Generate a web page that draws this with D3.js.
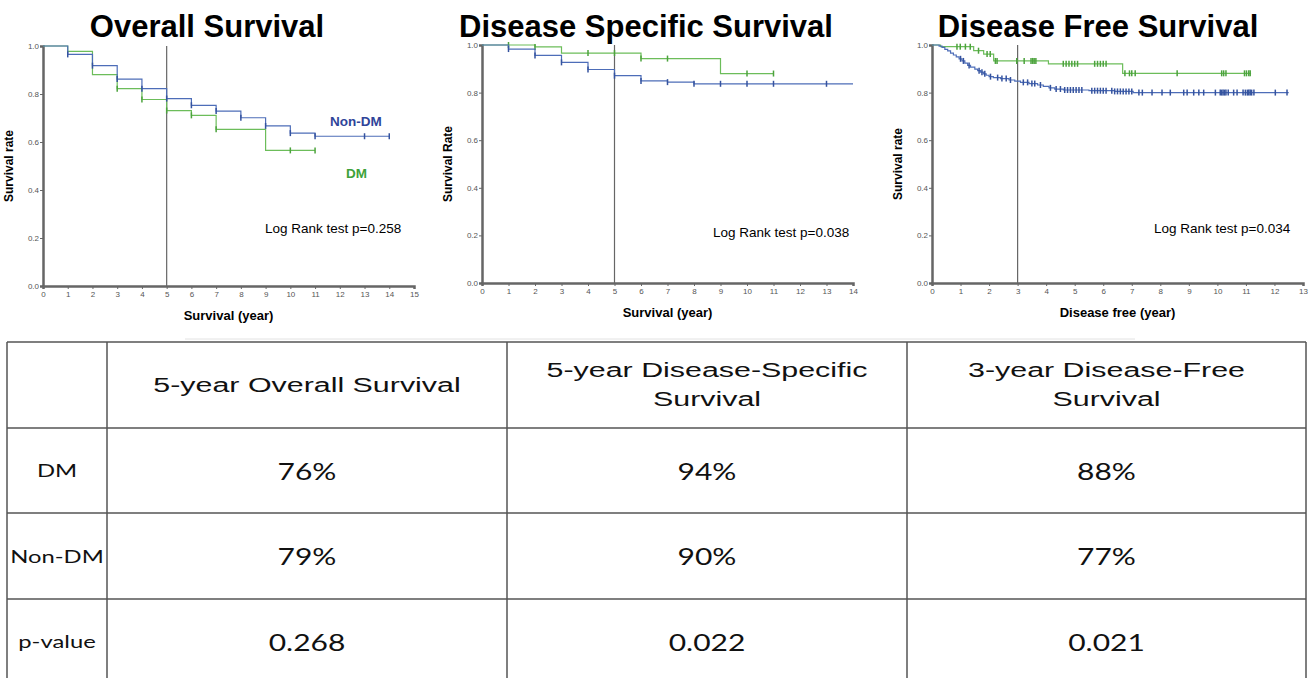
<!DOCTYPE html>
<html>
<head>
<meta charset="utf-8">
<script src="https://cdn.jsdelivr.net/npm/d3@7"></script>
<style>
  body { margin: 0; background: #fff; }
  svg { display: block; font-family: "Liberation Sans", Arial, sans-serif; }
  .tick text { fill: #555; font-size: 8px; }
</style>
</head>
<body>
<div id="chart"></div>
<script>
// ---- Kaplan-Meier data: [year, survival] steps ----
const osNonDmSteps = [[0, 1], [1, 0.965], [2, 0.918], [3, 0.862], [4, 0.822], [5, 0.781], [6, 0.753], [7, 0.729], [8, 0.701], [9, 0.667], [10, 0.637], [11, 0.624]];
const osNonDmEnd = 14;
const osNonDmCensor = [1, 2, 3, 4, 5, 6, 7, 8, 9, 10, 11, 13, 14];
const osDmSteps = [[0, 1], [1, 0.978], [2, 0.881], [3, 0.822], [4, 0.777], [5, 0.731], [6, 0.711], [7, 0.653], [9, 0.565]];
const osDmEnd = 11;
const osDmCensor = [3, 4, 5, 6, 7, 10, 11];

const dssNonDmSteps = [[0, 1], [1, 0.983], [2, 0.956], [3, 0.927], [4, 0.897], [5, 0.871], [6, 0.849], [7, 0.844], [8, 0.837]];
const dssNonDmEnd = 14;
const dssNonDmCensor = [1, 2, 3, 4, 5, 6, 7, 8, 9, 10, 11, 13];
const dssDmSteps = [[0, 1], [2, 0.992], [3, 0.966], [6, 0.943], [9, 0.880]];
const dssDmEnd = 11;
const dssDmCensor = [1, 2, 4, 5, 6, 7, 10, 11];

const dfsNonDmSteps = [[0, 1], [0.25, 0.995], [0.35, 0.99], [0.45, 0.982], [0.55, 0.975], [0.65, 0.966], [0.75, 0.958], [0.85, 0.95], [0.95, 0.942],
  [1.05, 0.933], [1.15, 0.924], [1.25, 0.914], [1.35, 0.907], [1.5, 0.899], [1.6, 0.892], [1.7, 0.886], [1.8, 0.879], [1.9, 0.873], [2.0, 0.867],
  [2.15, 0.863], [2.4, 0.859], [2.7, 0.853], [2.9, 0.848], [3.1, 0.843], [3.4, 0.838], [3.7, 0.832], [3.9, 0.826], [4.1, 0.82], [4.3, 0.815],
  [4.6, 0.811], [5.5, 0.808], [6.4, 0.805], [7.05, 0.8]];
const dfsNonDmEnd = 12.5;
const dfsNonDmCensor = [1.0, 1.1, 1.3, 1.65, 1.75, 1.85, 2.05, 2.3, 2.45, 2.6, 2.75, 3.2, 3.35, 3.5, 3.6, 3.8, 4.15, 4.35, 4.5, 4.65, 4.75, 4.85,
  4.95, 5.05, 5.15, 5.25, 5.6, 5.7, 5.8, 5.9, 6.0, 6.1, 6.3, 6.4, 6.5, 6.6, 6.7, 6.8, 6.9, 7.0, 7.25, 7.37, 7.71, 8.06, 8.35, 8.82, 8.94, 9.17,
  9.35, 9.52, 9.93, 10.1, 10.15, 10.2, 10.25, 10.3, 10.38, 10.57, 10.69, 10.9, 10.98, 11.05, 11.1, 11.15, 11.2, 11.28, 12.03, 12.44];
const dfsDmSteps = [[0, 1], [0.3, 0.993], [1.46, 0.976], [1.81, 0.962], [2.16, 0.933], [4.08, 0.921], [6.68, 0.881]];
const dfsDmEnd = 11.18;
const dfsDmCensor = [0.875, 0.99, 1.17, 1.34, 1.63, 1.93, 2.04, 2.22, 2.28, 2.97, 3.23, 3.47, 3.53, 3.58, 3.64, 4.6, 4.7, 4.8, 4.9, 5.0, 5.1,
  5.7, 5.8, 5.9, 6.0, 6.1, 6.76, 6.92, 7.0, 7.12, 8.59, 10.15, 10.22, 10.3, 10.95, 11.02, 11.1, 11.15];

// ---- summary table ----
const tableHeaders = [["5-year Overall Survival"], ["5-year Disease-Specific", "Survival"], ["3-year Disease-Free", "Survival"]];
const rowLabels = ["DM", "Non-DM", "p-value"];
const dmValues = ["76%", "94%", "88%"];
const nonDmValues = ["79%", "90%", "77%"];
const pValues = ["0.268", "0.022", "0.021"];

const blue = "#4d6db8", blueMark = "#35539f";
const green = "#6cbd5a", greenMark = "#4ca33d";

const svg = d3.select("#chart").append("svg")
  .attr("width", 1314)
  .attr("height", 678);

// survival value at time t for a step list
function survAt(steps, t) {
  let s = 1;
  steps.forEach(d => { if (d[0] <= t) s = d[1]; });
  return s;
}

function drawPanel(p) {
  const x = d3.scaleLinear().domain([0, p.xMax]).range([p.left, p.right]);
  const y = d3.scaleLinear().domain([0, 1]).range([p.bottom, p.top]);
  const g = svg.append("g");

  // title
  svg.append("text")
    .attr("x", p.titleX).attr("y", 37)
    .attr("text-anchor", "middle")
    .style("font-size", "31px").style("font-weight", "bold")
    .text(p.title);

  // axes
  const ya = g.append("g")
    .attr("transform", `translate(${p.left},0)`)
    .call(d3.axisLeft(y).tickValues([0, 0.2, 0.4, 0.6, 0.8, 1]).tickFormat(d3.format(".1f")).tickSize(3).tickPadding(1));
  const xa = g.append("g")
    .attr("transform", `translate(0,${p.bottom})`)
    .call(d3.axisBottom(x).ticks(p.xMax).tickFormat(d3.format("d")).tickSize(3).tickPadding(2));
  [ya, xa].forEach(a => {
    a.select(".domain").attr("stroke", "#666").attr("stroke-width", 2.5);
    a.selectAll(".tick line").attr("stroke", "#666");
  });

  // reference year line
  g.append("line")
    .attr("x1", x(p.refYear)).attr("x2", x(p.refYear))
    .attr("y1", p.top).attr("y2", p.bottom)
    .attr("stroke", "#666").attr("stroke-width", 1.2);

  const line = d3.line()
    .x(d => x(d[0])).y(d => y(d[1]))
    .curve(d3.curveStepAfter);

  p.curves.forEach(c => {
    const pts = c.steps.concat([[c.end, c.steps[c.steps.length - 1][1]]]);
    g.append("path")
      .attr("d", line(pts))
      .attr("fill", "none")
      .attr("stroke", c.color)
      .attr("stroke-width", 1.2);
    g.selectAll(null)
      .data(c.censor)
      .join("line")
      .attr("x1", d => x(d)).attr("x2", d => x(d))
      .attr("y1", d => y(survAt(c.steps, d)) - 3)
      .attr("y2", d => y(survAt(c.steps, d)) + 3)
      .attr("stroke", c.mark)
      .attr("stroke-width", 1.5);
  });

  // axis titles
  g.append("text")
    .attr("x", (p.left + p.right) / 2).attr("y", p.bottom + 34)
    .attr("text-anchor", "middle")
    .style("font-size", "13px").style("font-weight", "bold")
    .text(p.xTitle);
  g.append("text")
    .attr("transform", `translate(${p.left - 30},${(p.top + p.bottom) / 2}) rotate(-90)`)
    .attr("text-anchor", "middle")
    .style("font-size", "12px").style("font-weight", "bold")
    .text(p.yTitle);

  // log rank annotation
  g.append("text")
    .attr("x", p.logX).attr("y", p.logY)
    .style("font-size", "13.5px")
    .text(p.logText);
  return { x, y, g };
}

const p1 = drawPanel({
  left: 43, right: 414, top: 46, bottom: 286, xMax: 15, refYear: 5,
  title: "Overall Survival", titleX: 207,
  xTitle: "Survival (year)", yTitle: "Survival rate",
  logText: "Log Rank test p=0.258", logX: 265, logY: 233,
  curves: [
    { steps: osDmSteps, end: osDmEnd, censor: osDmCensor, color: green, mark: greenMark },
    { steps: osNonDmSteps, end: osNonDmEnd, censor: osNonDmCensor, color: blue, mark: blueMark }
  ]
});
// group labels
p1.g.append("text").attr("x", 330).attr("y", 126)
  .style("font-size", "13.5px").style("font-weight", "bold").attr("fill", "#2f4499")
  .text("Non-DM");
p1.g.append("text").attr("x", 346).attr("y", 178)
  .style("font-size", "13.5px").style("font-weight", "bold").attr("fill", "#3da23a")
  .text("DM");

drawPanel({
  left: 482, right: 853, top: 45, bottom: 283, xMax: 14, refYear: 5,
  title: "Disease Specific Survival", titleX: 646,
  xTitle: "Survival (year)", yTitle: "Survival Rate",
  logText: "Log Rank test p=0.038", logX: 713, logY: 237,
  curves: [
    { steps: dssDmSteps, end: dssDmEnd, censor: dssDmCensor, color: green, mark: greenMark },
    { steps: dssNonDmSteps, end: dssNonDmEnd, censor: dssNonDmCensor, color: blue, mark: blueMark }
  ]
});

drawPanel({
  left: 932, right: 1303, top: 45, bottom: 283, xMax: 13, refYear: 3,
  title: "Disease Free Survival", titleX: 1098,
  xTitle: "Disease free (year)", yTitle: "Survival rate",
  logText: "Log Rank test p=0.034", logX: 1154, logY: 233,
  curves: [
    { steps: dfsDmSteps, end: dfsDmEnd, censor: dfsDmCensor, color: green, mark: greenMark },
    { steps: dfsNonDmSteps, end: dfsNonDmEnd, censor: dfsNonDmCensor, color: blue, mark: blueMark }
  ]
});

// ---- table ----
const colEdges = [7, 107, 507, 907, 1306];
const rowEdges = [342, 428, 513, 599, 684];
const tg = svg.append("g");

tg.append("line").attr("x1", 185).attr("x2", 1135).attr("y1", 339).attr("y2", 339)
  .attr("stroke", "#e2e2e2").attr("stroke-width", 1);

colEdges.forEach(cx => tg.append("line")
  .attr("x1", cx).attr("x2", cx).attr("y1", rowEdges[0]).attr("y2", rowEdges[4])
  .attr("stroke", "#555").attr("stroke-width", 1.5));
rowEdges.forEach(ry => tg.append("line")
  .attr("x1", colEdges[0]).attr("x2", colEdges[4]).attr("y1", ry).attr("y2", ry)
  .attr("stroke", "#555").attr("stroke-width", 1.5));

const colMid = i => (colEdges[i] + colEdges[i + 1]) / 2;
const rowMid = i => (rowEdges[i] + rowEdges[i + 1]) / 2;

// stretched text, as in the slide
function cellText(cx, cy, str, size, family, sx) {
  tg.append("text")
    .attr("transform", `translate(${cx},${cy}) scale(${sx},1)`)
    .attr("text-anchor", "middle")
    .attr("dominant-baseline", "central")
    .style("font-family", family)
    .style("font-size", size + "px")
    .attr("fill", "#111")
    .text(str);
}

tableHeaders.forEach((lines, i) => {
  lines.forEach((ln, k) => {
    const cy = rowMid(0) + (k - (lines.length - 1) / 2) * 29;
    cellText(colMid(i + 1), cy, ln, 20, "'Liberation Sans', Arial", 1.52);
  });
});
[dmValues, nonDmValues, pValues].forEach((vals, r) => {
  cellText(colMid(0), rowMid(r + 1), rowLabels[r], 17, "Lato", 1.4);
  vals.forEach((v, i) => cellText(colMid(i + 1), rowMid(r + 1), v, 24, "Lato", 1.25));
});
</script>
</body>
</html>
